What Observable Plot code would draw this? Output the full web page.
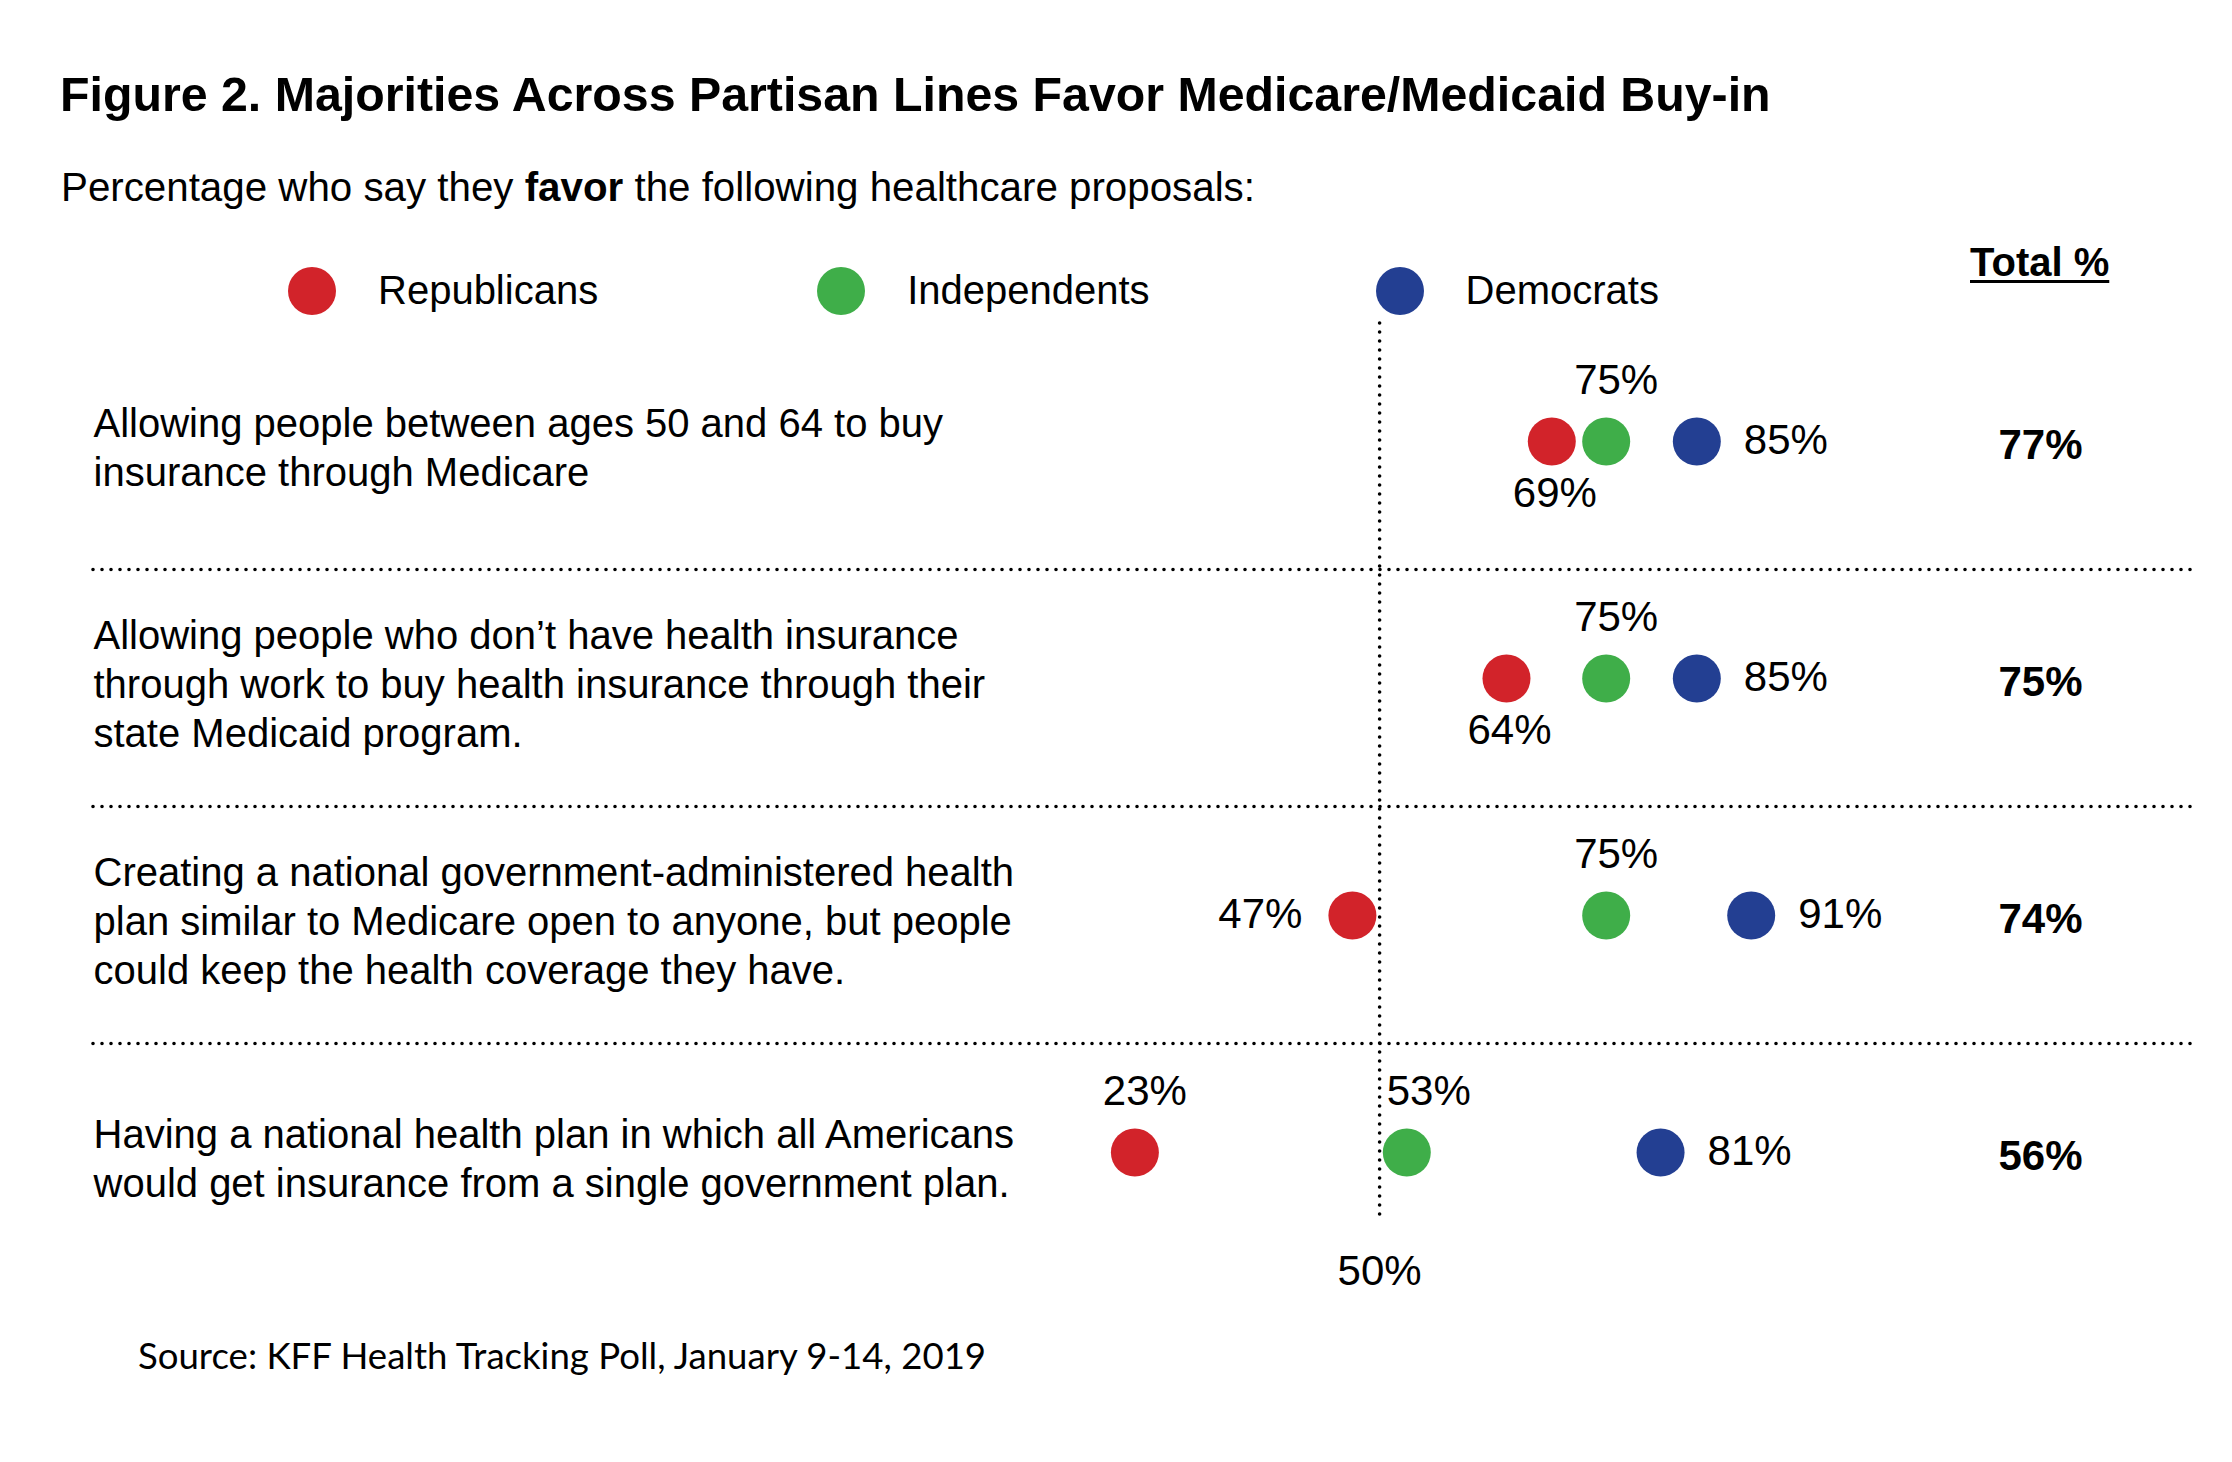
<!DOCTYPE html>
<html>
<head>
<meta charset="utf-8">
<script src="https://cdn.jsdelivr.net/npm/d3@7"></script>
<script src="https://cdn.jsdelivr.net/npm/@observablehq/plot@0.6"></script>
<style>
  html, body { margin: 0; padding: 0; background: #fff; }
  body { width: 2232px; height: 1462px; position: relative; overflow: hidden;
         font-family: "Liberation Sans", Arial, sans-serif; color: #000; }
  .abs { position: absolute; line-height: 1; white-space: nowrap; z-index: 2; }
  #title { left: 60px; top: 70px; font-size: 48.3px; font-weight: bold; }
  #subtitle { left: 61px; top: 168px; font-size: 40.3px; }
  #legend { position: absolute; z-index: 2; left: 288px; top: 267px; display: flex; align-items: center; }
  .item { display: flex; align-items: center; margin-right: 219px; }
  .item + .item + .item { margin-left: 7px; }
  .sw { width: 48px; height: 48px; flex: none; border-radius: 50%; margin-right: 42px; }
  .lab { font-size: 40px; line-height: 48px; position: relative; top: -1px; }
  #totalhdr { left: 1970px; top: 242px; font-size: 40px; font-weight: bold;
              text-decoration: underline; text-decoration-thickness: 3px; text-underline-offset: 4px; }
  #chart { position: absolute; left: 0; top: 310px; z-index: 1; }
  #source { left: 138px; top: 1337px; font-family: Lato, "Open Sans", sans-serif; font-size: 36.6px; }
</style>
</head>
<body>
<div id="chart"></div>
<div id="title" class="abs">Figure 2. Majorities Across Partisan Lines Favor Medicare/Medicaid Buy-in</div>
<div id="subtitle" class="abs">Percentage who say they <b>favor</b> the following healthcare proposals:</div>
<div id="legend"></div>
<div id="totalhdr" class="abs">Total %</div>
<div id="source" class="abs">Source: KFF Health Tracking Poll, January 9-14, 2019</div>
<script>
// ---- data ----
const questions = [
  "Allowing people between ages 50 and 64 to buy\ninsurance through Medicare",
  "Allowing people who don’t have health insurance\nthrough work to buy health insurance through their\nstate Medicaid program.",
  "Creating a national government-administered health\nplan similar to Medicare open to anyone, but people\ncould keep the health coverage they have.",
  "Having a national health plan in which all Americans\nwould get insurance from a single government plan."
];
const republicans = [69, 64, 47, 23];
const independents = [75, 75, 75, 53];
const democrats = [85, 85, 91, 81];
const totals = [77, 75, 74, 56];
const parties = ["Republicans", "Independents", "Democrats"];
const partyColors = ["#d2232a", "#3fae49", "#233f92"];
const referenceTicks = [50];

// ---- annotation placement (layout, not data) ----
const labelSide = {
  Republicans: ["below", "below", "left", "above"],
  Independents: ["above", "above", "above", "above"],
  Democrats: ["right", "right", "right", "right"]
};

// ---- build table ----
const series = {Republicans: republicans, Independents: independents, Democrats: democrats};
const rows = [];
parties.forEach(p => questions.forEach((q, i) => {
  rows.push({party: p, question: q, value: series[p][i], side: labelSide[p][i]});
}));
const totalRows = questions.map((q, i) => ({question: q, total: totals[i]}));

// ---- legend ----
const legend = document.getElementById("legend");
parties.forEach((p, i) => {
  const it = document.createElement("div");
  it.className = "item";
  const sw = document.createElement("div");
  sw.className = "sw";
  sw.style.background = partyColors[i];
  const lab = document.createElement("span");
  lab.className = "lab";
  lab.textContent = p;
  it.append(sw, lab);
  legend.append(it);
});

// ---- chart ----
const pct = d => `${d.value}%`;
const dotted = {stroke: "black", strokeWidth: 3.6, strokeDasharray: "0 9", strokeLinecap: "round"};
const side = s => rows.filter(d => d.side === s);
// labels above a dot that sits right next to the reference line are nudged clear of it
const aboveDx = d => (Math.abs(d.value - referenceTicks[0]) < 5 ? 22 : 10);

const chart = Plot.plot({
  width: 2232,
  height: 988,
  marginLeft: 93,
  marginRight: 39,
  marginTop: 13,
  marginBottom: 75,
  style: {fontFamily: "'Liberation Sans', Arial, sans-serif", fontSize: "40px", color: "black", background: "none"},
  x: {domain: [-91.9, 139.8]},
  y: {type: "point", domain: questions, range: [130, 842], padding: 0, axis: null},
  color: {domain: parties, range: partyColors},
  marks: [
    Plot.ruleY(questions.slice(0, -1), {...dotted, dy: 128}),
    Plot.ruleX(referenceTicks, dotted),
    Plot.axisX({ticks: referenceTicks, tickFormat: d => `${d}%`, tickSize: 0, tickPadding: 32, fontSize: 42, label: null, fill: "black"}),
    Plot.text(questions, {text: d => d, y: d => d, frameAnchor: "left", textAnchor: "start", lineHeight: 1.22, fontSize: 40, dy: 4, fill: "black"}),
    Plot.dot(rows, {x: "value", y: "question", fill: "party", r: 24}),
    Plot.text(side("above").filter(d => aboveDx(d) === 10), {x: "value", y: "question", text: pct, dy: -61, dx: 10, fontSize: 42, fill: "black"}),
    Plot.text(side("above").filter(d => aboveDx(d) === 22), {x: "value", y: "question", text: pct, dy: -61, dx: 22, fontSize: 42, fill: "black"}),
    Plot.text(side("below"), {x: "value", y: "question", text: pct, dy: 52, dx: 3, fontSize: 42, fill: "black"}),
    Plot.text(side("right"), {x: "value", y: "question", text: pct, dx: 47, dy: -1, textAnchor: "start", fontSize: 42, fill: "black"}),
    Plot.text(side("left"), {x: "value", y: "question", text: pct, dx: -50, dy: -1, textAnchor: "end", fontSize: 42, fill: "black"}),
    Plot.text(totalRows, {y: "question", text: d => `${d.total}%`, frameAnchor: "right", textAnchor: "middle", dx: -153, dy: 4, fontSize: 42, fontWeight: "bold", fill: "black"})
  ]
});
document.getElementById("chart").append(chart);
</script>
</body>
</html>
